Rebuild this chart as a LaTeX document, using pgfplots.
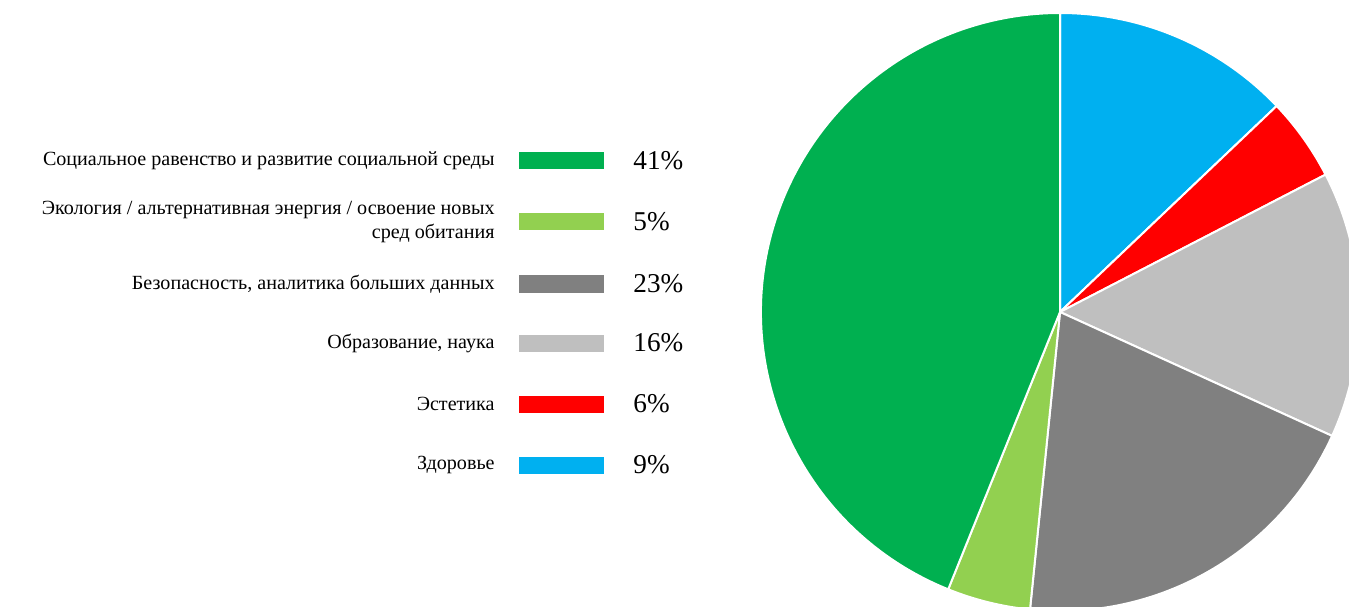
\documentclass[border=0pt]{standalone}
\usepackage{pgfplots}
\pgfplotsset{compat=1.18}
\usepackage{fontspec}
\setmainfont{Liberation Serif}
\definecolor{cGreen}{HTML}{00B050}
\definecolor{cLGreen}{HTML}{92D050}
\definecolor{cDGray}{HTML}{808080}
\definecolor{cLGray}{HTML}{BFBFBF}
\definecolor{cRed}{HTML}{FF0000}
\definecolor{cBlue}{HTML}{00B0F0}
\begin{document}
\begin{tikzpicture}
\useasboundingbox (0,0) rectangle (674.5pt,303pt);
\begin{axis}[
  x=0.5pt, y=0.5pt,
  xmin=0, xmax=1349, ymin=0, ymax=606,
  anchor=origin, at={(0,0)},
  hide axis, clip=true,
]
\addplot[draw=none] coordinates {(0,0) (1349,606)};
% pie: share of each slice (percent), clockwise from 12 o'clock
\pgfplotsextra{
  \gdef\s{90}
  \foreach \v/\c in {12.9/cBlue, 4.5/cRed, 14.4/cLGray, 19.8/cDGray, 4.5/cLGreen, 43.9/cGreen} {
    \pgfmathsetmacro{\e}{\s-3.6*\v}
    \fill[\c, draw=white, line width=1pt, line join=round] (axis cs:1060,294) -- ++(\s:149.5pt) arc[start angle=\s, end angle=\e, radius=149.5pt] -- cycle;
    \xdef\s{\e}
  }
  % legend
  \foreach \y/\c/\lab/\p in {
    161/cGreen/{Социальное равенство и развитие социальной среды}/41,
    222/cLGreen/{Экология / альтернативная энергия / освоение новых\\сред обитания}/5,
    284/cDGray/{Безопасность, аналитика больших данных}/23,
    343/cLGray/{Образование, наука}/16,
    404/cRed/{Эстетика}/6,
    465/cBlue/{Здоровье}/9} {
    \pgfmathsetmacro{\yy}{606-\y}
    \fill[\c] (axis cs:519,\yy-8.5) rectangle (axis cs:604,\yy+8.5);
    \node[anchor=east, align=right, inner sep=0pt, font=\fontsize{10.05}{11.8}\selectfont] at (axis cs:495,\yy) {\lab};
    \node[anchor=west, inner sep=0pt, font=\fontsize{13.6}{15}\selectfont] at (axis cs:633,\yy) {\p\%};
  }
}
\end{axis}
\end{tikzpicture}
\end{document}
